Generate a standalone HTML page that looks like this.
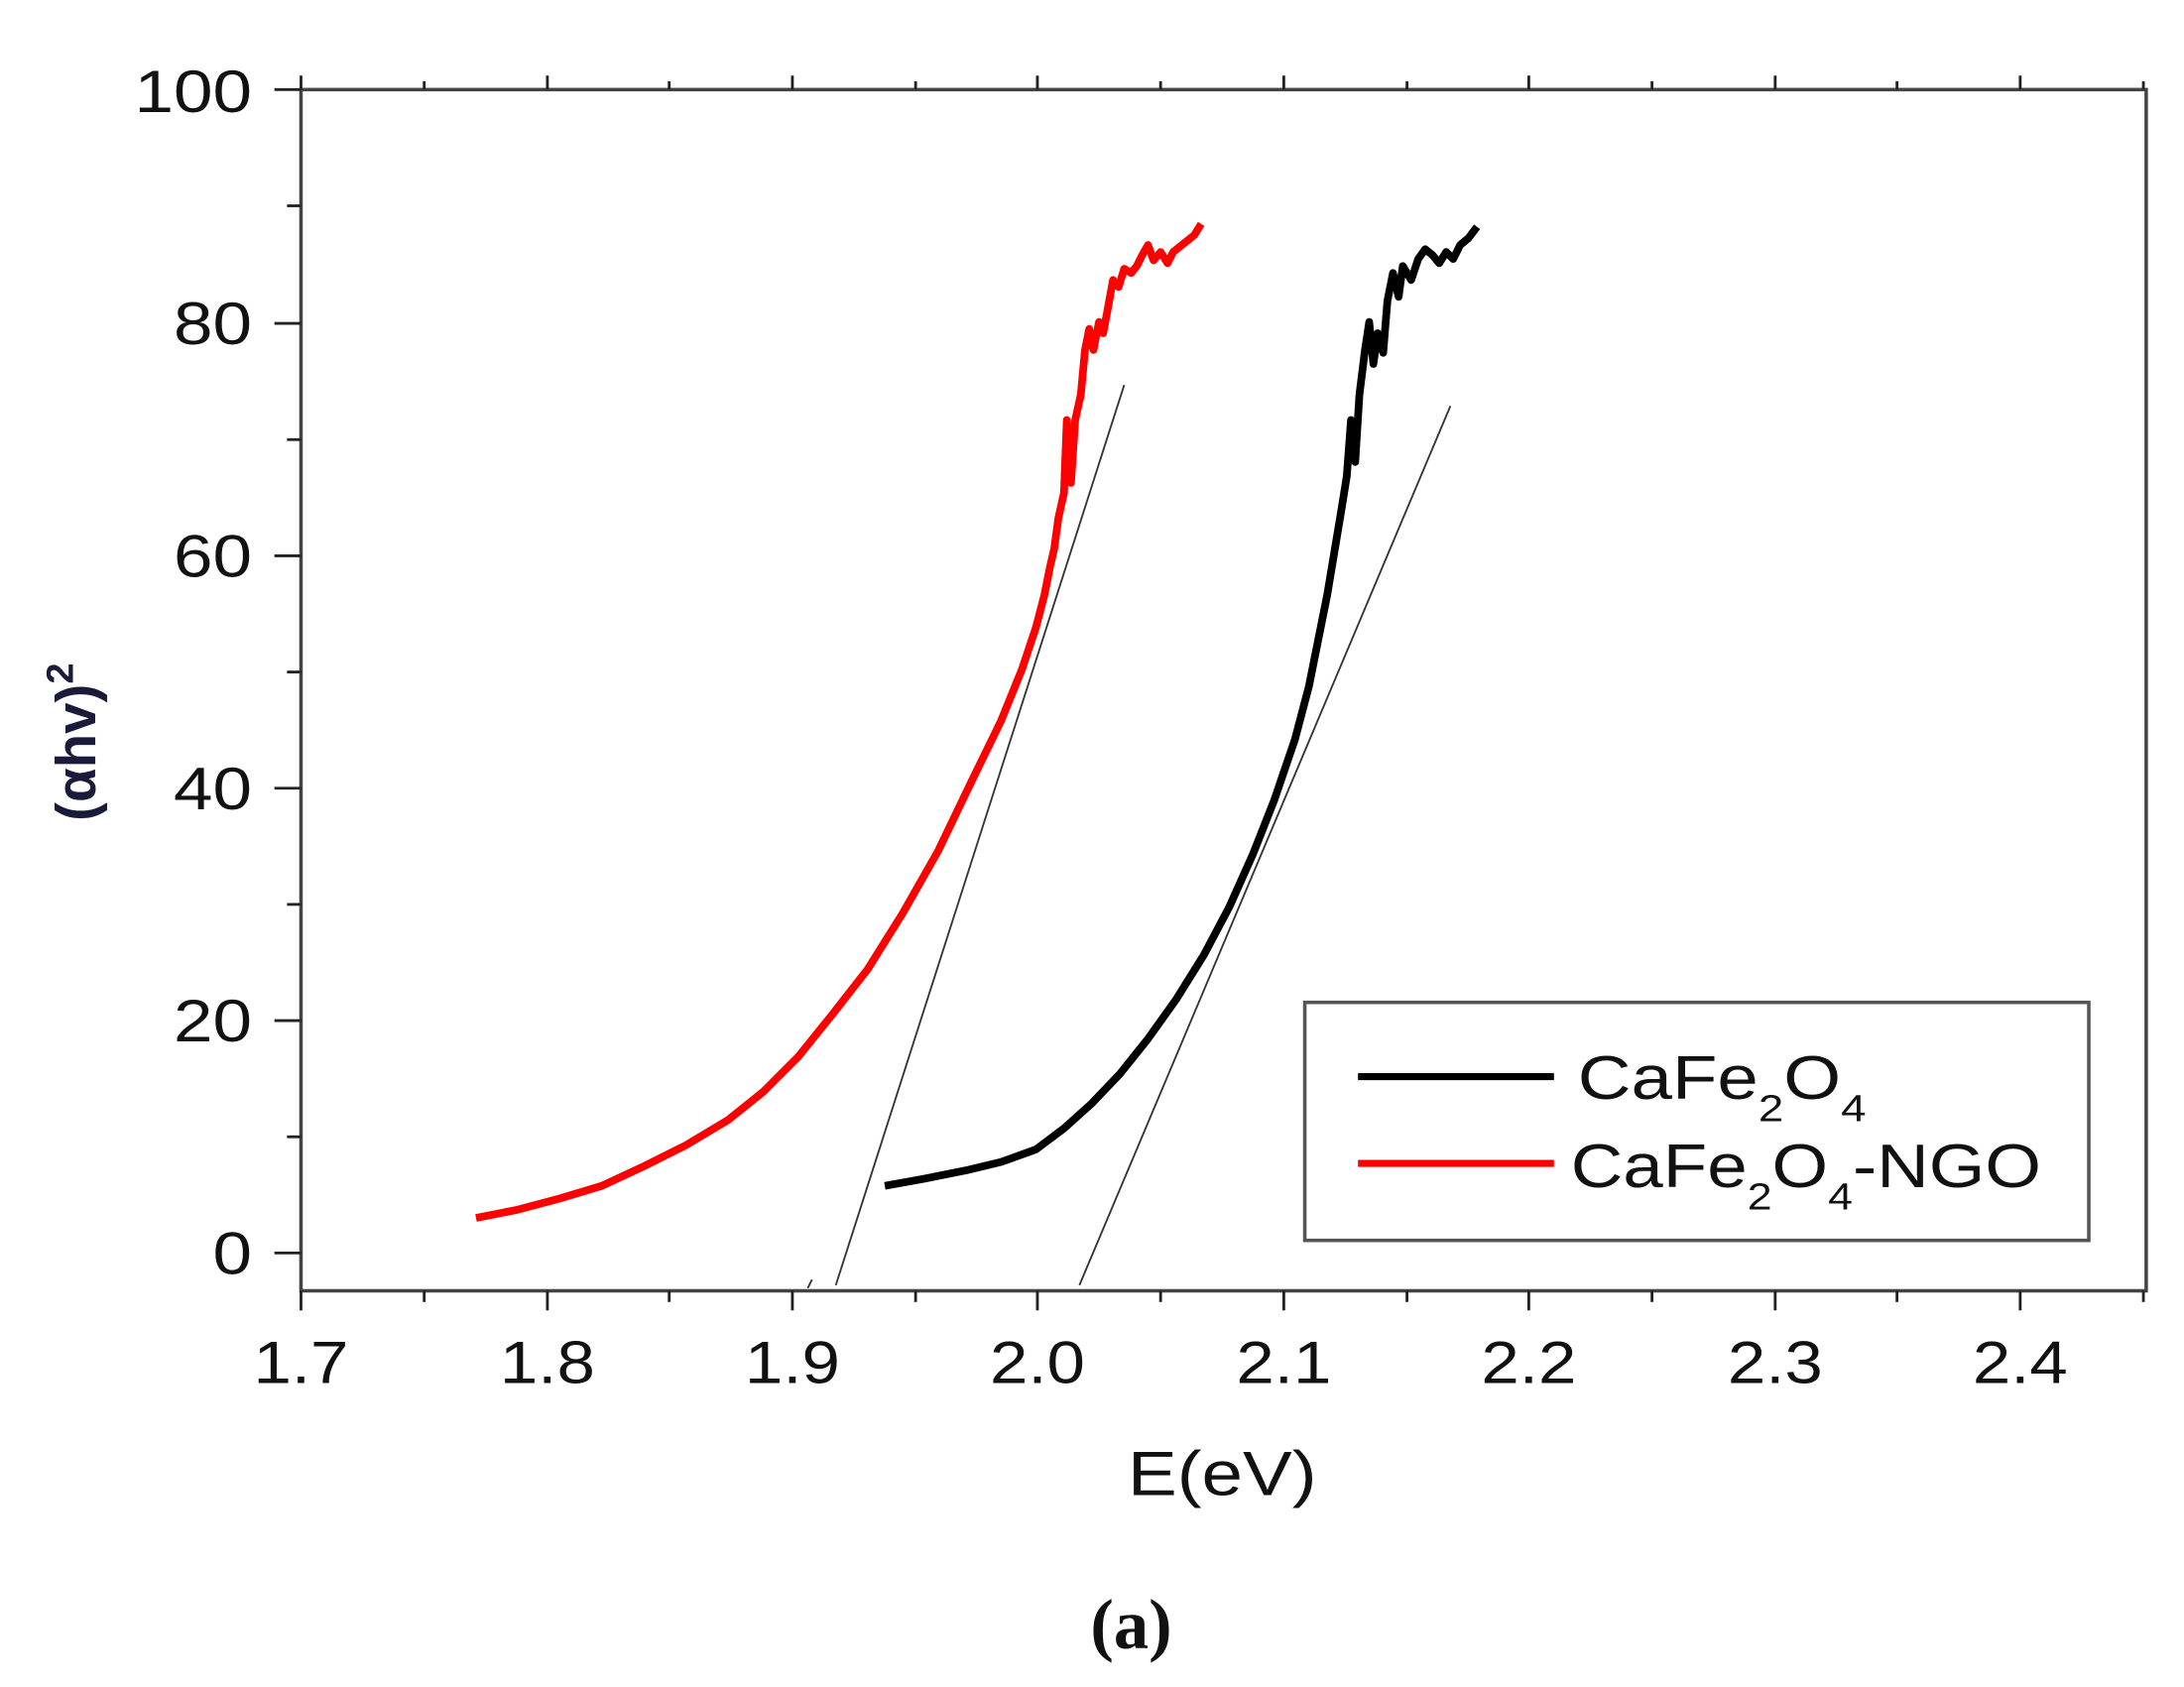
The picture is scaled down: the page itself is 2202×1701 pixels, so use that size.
<!DOCTYPE html>
<html><head><meta charset="utf-8"><style>html,body{margin:0;padding:0;background:#fff;}svg{display:block;}</style></head>
<body>
<svg width="2202" height="1701" viewBox="0 0 1560 1205" preserveAspectRatio="none" xmlns="http://www.w3.org/2000/svg">
<rect width="1560" height="1205" fill="#fff"/>
<g stroke="#444" stroke-width="2.5" fill="none">
<rect x="215" y="64" width="1318" height="858"/>
</g>
<g stroke="#222" stroke-width="2">
<line x1="196" y1="64" x2="215" y2="64"/><line x1="205" y1="147" x2="215" y2="147"/>
<line x1="196" y1="231" x2="215" y2="231"/><line x1="205" y1="314" x2="215" y2="314"/>
<line x1="196" y1="397" x2="215" y2="397"/><line x1="205" y1="480" x2="215" y2="480"/>
<line x1="196" y1="563" x2="215" y2="563"/><line x1="205" y1="646" x2="215" y2="646"/>
<line x1="196" y1="729" x2="215" y2="729"/><line x1="205" y1="812" x2="215" y2="812"/>
<line x1="196" y1="895" x2="215" y2="895"/>
<line x1="215" y1="922" x2="215" y2="936"/><line x1="215" y1="64" x2="215" y2="54"/>
<line x1="303" y1="922" x2="303" y2="930"/><line x1="303" y1="64" x2="303" y2="58"/>
<line x1="391" y1="922" x2="391" y2="936"/><line x1="391" y1="64" x2="391" y2="54"/>
<line x1="478" y1="922" x2="478" y2="930"/><line x1="478" y1="64" x2="478" y2="58"/>
<line x1="566" y1="922" x2="566" y2="936"/><line x1="566" y1="64" x2="566" y2="54"/>
<line x1="654" y1="922" x2="654" y2="930"/><line x1="654" y1="64" x2="654" y2="58"/>
<line x1="741" y1="922" x2="741" y2="936"/><line x1="741" y1="64" x2="741" y2="54"/>
<line x1="829" y1="922" x2="829" y2="930"/><line x1="829" y1="64" x2="829" y2="58"/>
<line x1="917" y1="922" x2="917" y2="936"/><line x1="917" y1="64" x2="917" y2="54"/>
<line x1="1005" y1="922" x2="1005" y2="930"/><line x1="1005" y1="64" x2="1005" y2="58"/>
<line x1="1092" y1="922" x2="1092" y2="936"/><line x1="1092" y1="64" x2="1092" y2="54"/>
<line x1="1180" y1="922" x2="1180" y2="930"/><line x1="1180" y1="64" x2="1180" y2="58"/>
<line x1="1268" y1="922" x2="1268" y2="936"/><line x1="1268" y1="64" x2="1268" y2="54"/>
<line x1="1355" y1="922" x2="1355" y2="930"/><line x1="1355" y1="64" x2="1355" y2="58"/>
<line x1="1443" y1="922" x2="1443" y2="936"/><line x1="1443" y1="64" x2="1443" y2="54"/>
<line x1="1531" y1="922" x2="1531" y2="930"/><line x1="1531" y1="64" x2="1531" y2="58"/>
</g>
<g font-family="Liberation Sans, sans-serif" font-size="43" fill="#111">
<g text-anchor="end" lengthAdjust="spacingAndGlyphs">
<text x="180" y="80" textLength="84" lengthAdjust="spacingAndGlyphs">100</text>
<text x="180" y="246" textLength="56" lengthAdjust="spacingAndGlyphs">80</text>
<text x="180" y="412" textLength="56" lengthAdjust="spacingAndGlyphs">60</text>
<text x="180" y="578" textLength="56" lengthAdjust="spacingAndGlyphs">40</text>
<text x="180" y="744" textLength="56" lengthAdjust="spacingAndGlyphs">20</text>
<text x="180" y="910" textLength="28" lengthAdjust="spacingAndGlyphs">0</text>
</g>
<g text-anchor="middle">
<text x="215" y="988" textLength="68" lengthAdjust="spacingAndGlyphs">1.7</text>
<text x="391" y="988" textLength="68" lengthAdjust="spacingAndGlyphs">1.8</text>
<text x="566" y="988" textLength="68" lengthAdjust="spacingAndGlyphs">1.9</text>
<text x="741" y="988" textLength="68" lengthAdjust="spacingAndGlyphs">2.0</text>
<text x="917" y="988" textLength="68" lengthAdjust="spacingAndGlyphs">2.1</text>
<text x="1092" y="988" textLength="68" lengthAdjust="spacingAndGlyphs">2.2</text>
<text x="1268" y="988" textLength="68" lengthAdjust="spacingAndGlyphs">2.3</text>
<text x="1443" y="988" textLength="68" lengthAdjust="spacingAndGlyphs">2.4</text>
<text x="873" y="1068" font-size="45" textLength="135" lengthAdjust="spacingAndGlyphs">E(eV)</text>
</g>
</g>
<text transform="translate(68,530) rotate(-90)" text-anchor="middle" font-family="Liberation Sans, sans-serif" font-weight="bold" font-size="40" fill="#1a1a3a">(αhv)<tspan font-size="27" dy="-16">2</tspan></text>
<text x="808" y="1177" text-anchor="middle" font-family="Liberation Serif, serif" font-weight="bold" font-size="50" fill="#111">(a)</text>
<g stroke="#333" stroke-width="1.3">
<line x1="597" y1="918" x2="803" y2="275"/>
<line x1="771" y1="918" x2="1036" y2="290"/>
<line x1="577" y1="920" x2="580" y2="914"/>
</g>
<polyline fill="none" stroke="#f00" stroke-width="5.5" stroke-linejoin="round" points="340,870 370,864 400,856 430,847 460,833 490,818 520,800 545,780 570,755 595,724 620,692 645,652 670,608 695,556 715,515 730,478 740,448 746,425 750,405 753,392 756,370 760,352 762,300 765,345 768,300 772,282 775,250 778,235 781,250 785,230 788,238 791,222 795,200 799,205 803,192 808,195 812,190 816,182 820,175 824,186 829,180 834,188 838,180 843,176 848,172 853,168 858,160"/>
<polyline fill="none" stroke="#000" stroke-width="5.5" stroke-linejoin="round" points="632,847 660,842 690,836 715,830 740,821 760,806 780,788 800,767 820,742 840,714 860,682 878,648 895,610 910,572 925,528 935,490 942,455 948,425 953,395 958,365 962,340 965,300 968,330 971,282 975,250 978,230 981,260 984,238 988,252 991,215 995,195 999,212 1002,190 1008,200 1013,185 1018,178 1023,182 1028,188 1033,180 1038,185 1043,175 1049,170 1055,162"/>
<rect x="932" y="716" width="560" height="170" fill="#fff" stroke="#555" stroke-width="2.5"/>
<line x1="970" y1="769" x2="1110" y2="769" stroke="#000" stroke-width="5"/>
<line x1="970" y1="831" x2="1110" y2="831" stroke="#f00" stroke-width="5"/>
<g font-family="Liberation Sans, sans-serif" font-size="44" fill="#111">
<text x="1127" y="785" textLength="206" lengthAdjust="spacingAndGlyphs">CaFe<tspan font-size="27" dy="16">2</tspan><tspan dy="-16">O</tspan><tspan font-size="27" dy="16">4</tspan></text>
<text x="1122" y="848" textLength="336" lengthAdjust="spacingAndGlyphs">CaFe<tspan font-size="27" dy="16">2</tspan><tspan dy="-16">O</tspan><tspan font-size="27" dy="16">4</tspan><tspan dy="-16">-NGO</tspan></text>
</g>
</svg>
</body></html>
